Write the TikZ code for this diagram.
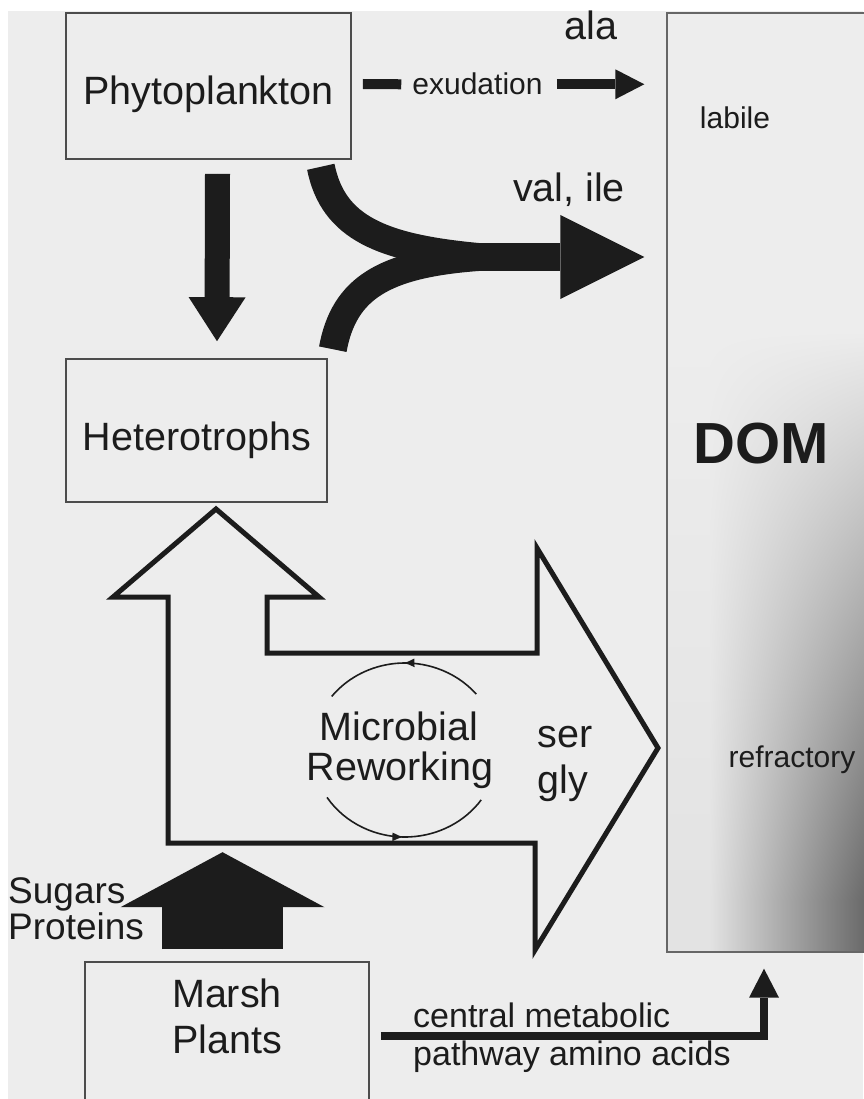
\documentclass[tikz,border=0pt]{standalone}
\usepackage{fontspec}
\setmainfont{Liberation Sans}
\usetikzlibrary{arrows.meta,calc,decorations.markings}

\definecolor{paper}{gray}{0.93}
\definecolor{ink}{gray}{0.11}

% grey wash of the DOM column: darkens to the right and towards the bottom
% (the box maps onto the middle 25bp--75bp of the shading)
\pgfdeclarefunctionalshading{domshade}{\pgfpointorigin}{\pgfpoint{100bp}{100bp}}{}{
  25 sub 2 mul 66.2 exch sub 60.7 div
  dup 0 lt {pop 0} if dup 1 gt {pop 1} if
  exch 25 sub 2 mul 20 sub dup 0 lt {pop 0} if 0.0064 mul 0.04 add
  mul 0.93 exch sub dup dup
}

\tikzset{
  box/.style={draw=black!70, line width=1.6pt, fill=paper, inner sep=0pt},
  dombox/.style={draw=black!60, line width=1.4pt, shading=domshade, inner sep=0pt,
    minimum width=210pt, minimum height=939pt},
  lbl/.style={font=\fontsize{39.5}{46}\selectfont, text=ink, inner sep=0pt, anchor=base},
  sidelbl/.style={font=\fontsize{37}{44}\selectfont, text=ink, inner sep=0pt, anchor=base west},
  sublbl/.style={font=\fontsize{30}{36}\selectfont, text=ink, inner sep=0pt, anchor=base},
  pathlbl/.style={font=\fontsize{34}{40}\selectfont, text=ink, inner sep=0pt, anchor=base west},
  fatarrow/.style={draw=ink, fill=ink, line cap=butt},
  outline/.style={draw=ink, line width=5pt, line join=miter},
  cycline/.style={draw=ink, line width=1.6pt, postaction={decorate},
    decoration={markings, mark=at position 0.5 with {\arrow{Latex[length=11pt,width=9pt]}}}}
}

\begin{document}
\begin{tikzpicture}[x=1pt,y=-1pt]
\useasboundingbox (0,0) rectangle (863,1099);
\fill[white] (0,0) rectangle (863,1099);
\fill[paper] (8,11) rectangle (863,1099);

% boxes
\node[box, minimum width=285pt, minimum height=146pt] (phyto) at (208.5,86) {};
\node[box, minimum width=261pt, minimum height=143pt] (hetero) at (196.5,430.5) {};
\node[box, minimum width=284pt, minimum height=148pt] (marsh) at (227,1036) {};
\node[dombox] (dom) at (772,482.5) {};

% microbial reworking arrow
\draw[outline] (216,509) -- (319,597) -- (267,597) -- (267,653) -- (537,653) -- (537,548)
  -- (658,748) -- (535,950) -- (535,843) -- (168,843) -- (168,597) -- (113,597) -- cycle;

\coordinate (cyc) at (405,750);
\draw[cycline] ($(cyc)+(-40:93 and 87)$) arc[start angle=-40, end angle=-142, x radius=93, y radius=87];
\draw[cycline] ($(cyc)+(147:93 and 87)$) arc[start angle=147, end angle=35, x radius=93, y radius=87];

% labels
\node[lbl] (phytotxt) at (208.5,105) {Phytoplankton};
\node[lbl] (heterotxt) at (197,450) {Heterotrophs};
\node[lbl] (marshtxt) at (227,1007) {Marsh};
\node[lbl] (planttxt) at (227,1053) {Plants};
\node[sidelbl] (sugtxt) at (8,903) {Sugars};
\node[sidelbl] (prottxt) at (8,939) {Proteins};
\node[lbl] (mictxt) at (399,740) {Microbial};
\node[lbl] (rewtxt) at (400,780) {Reworking};
\node[lbl] (sertxt) at (565,747) {ser};
\node[lbl] (glytxt) at (563,793) {gly};
\node[lbl] (alatxt) at (591,40) {ala};
\node[lbl] (valtxt) at (569,202) {val, ile};
\node[sublbl] (exu) at (477.5,95) {exudation};
\node[sublbl] (labtxt) at (735,129) {labile};
\node[sublbl] (reftxt) at (792,767) {refractory};
\node[font=\bfseries\fontsize{58}{64}\selectfont, text=ink, inner sep=0pt, anchor=base] (domtxt) at (761,463) {DOM};
\node[pathlbl] (cmtxt) at (413,1027) {central metabolic};
\node[pathlbl] (patxt) at (413,1065) {pathway amino acids};

% exudation
\draw[fatarrow, line width=10pt] ($(phyto.east)+(11,-2)$) -- ($(exu.west)+(-11,0)$);
\draw[fatarrow, line width=10pt, -{Triangle[length=29pt,width=30pt,line width=0pt]}]
  ($(exu.east)+(14,0)$) -- ($(dom.west |- exu.east)+(-22,0)$);

% grazing
\draw[fatarrow, line width=25pt, -{Triangle[length=44pt,width=57pt,line width=0pt]}]
  ($(phyto.south)+(9,14)$) -- ($(hetero.north)+(20.5,-17)$);

% val, ile from both sources
\coordinate (merge) at (478,257);
\draw[draw=ink, line width=28pt] ($(phyto.south east)+(-31,7)$) .. controls (333,228) and (382,248) .. (merge);
\draw[draw=ink, line width=28pt] ($(hetero.north east)+(5,-9)$) .. controls (344,288) and (384,264) .. (merge);
\draw[fatarrow, line width=28pt, -{Triangle[length=84pt,width=84pt,line width=0pt]}]
  ($(merge)+(-4,0)$) -- ($(dom.west |- merge)+(-22,0)$);

% sugars, proteins
\draw[fatarrow, line width=121pt, -{Triangle[length=55pt,width=204pt,line width=0pt]}]
  ($(marsh.north)+(-4.5,-12)$) -- ($(marsh.north)+(-4.5,-109)$);

% central metabolic pathway
\draw[fatarrow, fill=none, line width=8pt, line join=miter, -{Triangle[length=29pt,width=30pt,line width=0pt]}]
  ($(marsh.east)+(11,0)$) -| ($(dom.south)+(-8,16)$);
\end{tikzpicture}
\end{document}
